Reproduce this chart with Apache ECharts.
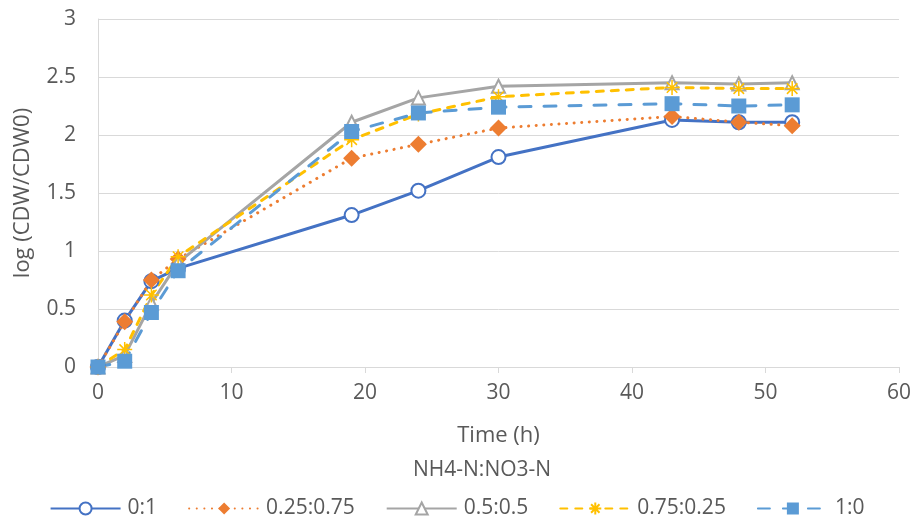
<!DOCTYPE html>
<html>
<head>
<meta charset="utf-8">
<script src="https://cdn.jsdelivr.net/npm/echarts@6/dist/echarts.min.js"></script>
<style>
  html, body { margin: 0; padding: 0; background: #fff; }
  #chart { width: 914px; height: 522px; }
</style>
</head>
<body>
<div id="chart"></div>
<script>
// Sampling times (h)
const times = [0, 2, 4, 6, 19, 24, 30, 43, 48, 52];

// log(CDW/CDW0) for each NH4-N:NO3-N ratio
const ratio_0_1     = [0, 0.40, 0.74, 0.85, 1.31, 1.52, 1.81, 2.13, 2.11, 2.11];
const ratio_25_75   = [0, 0.39, 0.75, 0.93, 1.80, 1.92, 2.06, 2.16, 2.11, 2.08];
const ratio_50_50   = [0, 0.10, 0.55, 0.90, 2.11, 2.32, 2.42, 2.45, 2.44, 2.45];
const ratio_75_25   = [0, 0.15, 0.62, 0.95, 1.96, 2.18, 2.33, 2.41, 2.40, 2.40];
const ratio_100_0   = [0, 0.05, 0.47, 0.83, 2.03, 2.19, 2.24, 2.27, 2.25, 2.26];

const seriesNames = ['0:1', '0.25:0.75', '0.5:0.5', '0.75:0.25', '1:0'];
const legendTitle = 'NH4-N:NO3-N';
const xTitle = 'Time (h)';
const yTitle = 'log (CDW/CDW0)';

const FONT = 'Open Sans';
const TXT = '#595959';
const GRIDC = '#D9D9D9';
const asterisk = 'path://M0,-10L0,10M-10,0L10,0M-7,-7L7,7M-7,7L7,-7';

function pairs(vals) { return times.map((t, i) => [t, vals[i]]); }

const chart = echarts.init(document.getElementById('chart'), null, { renderer: 'canvas' });

chart.setOption({
  animation: false,
  backgroundColor: '#ffffff',
  textStyle: { fontFamily: FONT },
  title: {
    text: legendTitle,
    left: 413,
    top: 460,
    padding: 0,
    textStyle: { fontFamily: FONT, fontSize: 21, fontWeight: 'normal', color: TXT }
  },
  legend: {
    top: 493,
    left: 'center',
    itemWidth: 70,
    itemHeight: 15,
    itemGap: 31,
    textStyle: { fontFamily: FONT, fontSize: 21, color: TXT, padding: [0, 0, 0, 2] },
    data: seriesNames
  },
  grid: { left: 98, right: 13, top: 19, bottom: 155, containLabel: false },
  xAxis: {
    type: 'value', min: 0, max: 60, interval: 10,
    name: xTitle, nameLocation: 'middle', nameGap: 58,
    nameTextStyle: { fontFamily: FONT, fontSize: 22, color: TXT },
    axisLine: { show: true, lineStyle: { color: GRIDC, width: 1 } },
    axisTick: { show: true, inside: false, length: 6, lineStyle: { color: GRIDC } },
    axisLabel: { fontFamily: FONT, fontSize: 21, color: TXT, margin: 16 },
    splitLine: { show: false }
  },
  yAxis: {
    type: 'value', min: 0, max: 3, interval: 0.5,
    name: yTitle, nameLocation: 'middle', nameGap: 64, nameRotate: 90,
    nameTextStyle: { fontFamily: FONT, fontSize: 22, color: TXT },
    axisLine: { show: true, lineStyle: { color: GRIDC, width: 1 } },
    axisTick: { show: false },
    axisLabel: { fontFamily: FONT, fontSize: 21, color: TXT, margin: 22 },
    splitLine: { show: true, lineStyle: { color: GRIDC, width: 1 } }
  },
  series: [
    {
      name: seriesNames[0], type: 'line', data: pairs(ratio_0_1),
      color: '#4472C4',
      lineStyle: { width: 3, color: '#4472C4' },
      symbol: 'emptyCircle', symbolSize: 14,
      itemStyle: { color: '#4472C4', borderColor: '#4472C4', borderWidth: 2 }
    },
    {
      name: seriesNames[1], type: 'line', data: pairs(ratio_25_75),
      color: '#ED7D31',
      lineStyle: { width: 3, color: '#ED7D31', type: [0.1, 7.5], cap: 'round' },
      symbol: 'diamond', symbolSize: 17,
      itemStyle: { color: '#ED7D31', borderColor: '#ED7D31', borderWidth: 0 }
    },
    {
      name: seriesNames[2], type: 'line', data: pairs(ratio_50_50),
      color: '#A5A5A5',
      lineStyle: { width: 3, color: '#A5A5A5' },
      symbol: 'emptyTriangle', symbolSize: 13,
      itemStyle: { color: '#A5A5A5', borderColor: '#A5A5A5', borderWidth: 1.5 }
    },
    {
      name: seriesNames[3], type: 'line', data: pairs(ratio_75_25),
      color: '#FFC000',
      lineStyle: { width: 3, color: '#FFC000', type: [7, 8], cap: 'round' },
      symbol: asterisk, symbolSize: 15,
      itemStyle: { color: '#FFC000', borderColor: '#FFC000', borderWidth: 1.5 }
    },
    {
      name: seriesNames[4], type: 'line', data: pairs(ratio_100_0),
      color: '#5B9BD5',
      lineStyle: { width: 3, color: '#5B9BD5', type: [12, 13], cap: 'round' },
      symbol: 'rect', symbolSize: 15,
      itemStyle: { color: '#5B9BD5', borderColor: '#5B9BD5', borderWidth: 0 }
    }
  ]
});
</script>
</body>
</html>
